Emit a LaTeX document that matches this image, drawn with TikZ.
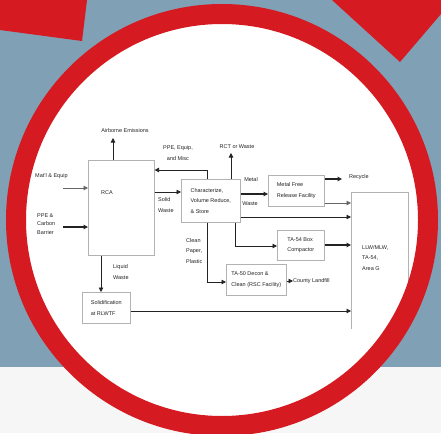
\documentclass[tikz,border=0pt]{standalone}
\usepackage{fontspec}
\setmainfont{Liberation Sans}
\usetikzlibrary{arrows.meta,shadows}
\definecolor{bgblue}{RGB}{127,160,181}
\definecolor{ringred}{RGB}{214,26,33}
\definecolor{ink}{RGB}{35,35,35}
\definecolor{paper}{RGB}{246,246,246}
\begin{document}
\begin{tikzpicture}[x=1pt,y=-1pt,
  txt/.style={font=\fontsize{5.5}{10.5}\selectfont, text=ink, inner sep=0pt, align=left},
  box/.style={draw=gray!60, fill=white, line width=0.6pt, inner sep=1pt,
    font=\fontsize{5.5}{10.5}\selectfont, text=ink, align=left, anchor=north west},
  sbox/.style={box, drop shadow={shadow xshift=0.9pt, shadow yshift=-0.9pt, fill=black!80, opacity=1}},
  arr/.style={draw=ink, line width=0.8pt, -{Triangle[length=4.5pt,width=4.5pt]}},
  garr/.style={arr, draw=gray!80!black},
  tarr/.style={arr, line width=1.2pt},
  ]
\useasboundingbox (0,0) rectangle (441,433);
% background
\fill[paper] (0,0) rectangle (441,433);
\fill[bgblue] (0,0) rectangle (441,367);
\fill[ringred] (0,0) -- (87,0) -- (82,41) -- (0,30) -- cycle;
\fill[ringred] (332,0) -- (400,62) -- (441,14) -- (441,0) -- cycle;
\fill[white] (222,220) circle (206);
\begin{scope}
\clip (222,220) circle (198);
% boxes
\node[box, minimum width=66pt, minimum height=95pt] (rca) at (88,160) {};
\node[txt] (rcalbl) at (107,193) {RCA};
\node[box, minimum width=59pt, minimum height=43pt] (char) at (181,179)
  {Characterize,\\Volume Reduce,\\\& Store};
\node[sbox, minimum width=56pt, minimum height=31pt] (metal) at (268,175)
  {Metal Free\\Release Facility};
\node[box, minimum width=57pt, minimum height=136pt, draw=none, fill=none] (llw) at (351,192) {};
\draw[gray!60, line width=0.6pt] (llw.south west) -- (llw.north west) -- (llw.north east) -- ([yshift=8pt]llw.south east);
\node[txt, anchor=west] (llwlbl) at (362,258) {LLW/MLW,\\TA-54,\\Area G};
\node[box, minimum width=47pt, minimum height=30pt] (comp) at (277,230)
  {TA-54 Box\\Compactor};
\node[sbox, minimum width=60pt, minimum height=31pt] (decon) at (226,264)
  {TA-50 Decon \&\\Clean (RSC Facility)};
\node[sbox, minimum width=48pt, minimum height=31pt] (solid) at (82,292)
  {Solidification\\at RLWTF};
% labels
\node[txt] (airlbl) at (125,131) {Airborne Emissions};
\node[txt, anchor=west] (matlbl) at (35,176) {Mat'l \& Equip};
\node[txt, anchor=west, font=\fontsize{5.5}{8.5}\selectfont] (ppelbl) at (37,224) {PPE \&\\Carbon\\Barrier};
\node[txt, anchor=west] (solidlbl) at (158,205) {Solid\\Waste};
\node[txt, align=center] (ppebacklbl) at (178,153) {PPE, Equip,\\and Misc};
\node[txt] (rctlbl) at (237,147) {RCT or Waste};
\node[txt] (metallbl) at (251,180) {Metal};
\node[txt] (wastelbl) at (250,204) {Waste};
\node[txt, anchor=west] (recyclelbl) at (349,177) {Recycle};
\node[txt, anchor=west] (cleanlbl) at (186,251) {Clean\\Paper,\\Plastic};
\node[txt, anchor=west] (landlbl) at (293,281) {County Landfill};
\node[txt, anchor=west] (liqlbl) at (113,272) {Liquid\\Waste};
% helper coordinates
\coordinate (airtop) at (113,138);
\coordinate (matstart) at (63,188);
\coordinate (ppestart) at (63,227);
\coordinate (ySolid) at (0,192);
\coordinate (ppeback) at (207,170);
\coordinate (rcttop) at (231,153);
\coordinate (yMetal) at (0,194);
\coordinate (yRec) at (0,179);
\coordinate (recend) at (342,179);
\coordinate (y203) at (0,203);
\coordinate (y217) at (0,217);
\coordinate (compbend) at (235,246);
\coordinate (y245) at (0,245);
\coordinate (deconbend) at (207,282);
\coordinate (yLand) at (0,281);
\coordinate (xLiq) at (101,0);
\coordinate (y311) at (0,311);
% connectors
\draw[arr] (rca.north -| airtop) -- (airtop);
\draw[garr] (matstart) -- (matstart -| rca.west);
\draw[tarr] (ppestart) -- (ppestart -| rca.west);
\draw[arr] (rca.east |- ySolid) -- (char.west |- ySolid);
\draw[arr] (char.north -| ppeback) -- (ppeback) -- (ppeback -| rca.east);
\draw[arr] (char.north -| rcttop) -- (rcttop);
\draw[tarr] (char.east |- yMetal) -- (metal.west |- yMetal);
\draw[tarr] (metal.east |- yRec) -- (recend);
\draw[garr] (metal.east |- y203) -- (llw.west |- y203);
\draw[arr] (char.east |- y217) -- (llw.west |- y217);
\draw[arr] (char.south -| compbend) -- (compbend) -- (comp.west |- compbend);
\draw[tarr] (comp.east |- y245) -- (llw.west |- y245);
\draw[arr] (char.south -| deconbend) -- (deconbend) -- (decon.west |- deconbend);
\draw[arr] (decon.east |- yLand) -- (landlbl.west);
\draw[arr] (rca.south -| xLiq) -- (solid.north -| xLiq);
\draw[arr] (solid.east |- y311) -- (llw.west |- y311);
\end{scope}
\draw[ringred, line width=20pt] (222,220) circle (206);
\end{tikzpicture}
\end{document}
